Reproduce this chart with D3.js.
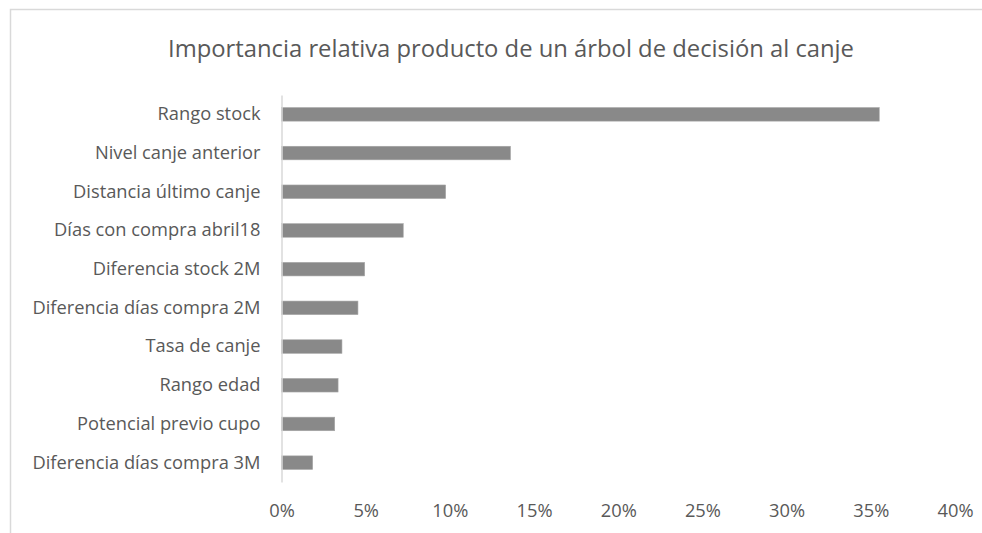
<!DOCTYPE html>
<html>
<head>
<meta charset="utf-8">
<script src="https://cdn.jsdelivr.net/npm/d3@7"></script>
<style>
  html, body { margin: 0; padding: 0; background: #fff; }
  svg { display: block; }
  text { font-family: "Open Sans", "Noto Sans", sans-serif; fill: #595959; }
</style>
</head>
<body>
<svg id="chart" width="982" height="533"></svg>
<script>
// Feature importance of the decision tree, top to bottom
const categories = [
  "Rango stock",
  "Nivel canje anterior",
  "Distancia último canje",
  "Días con compra abril18",
  "Diferencia stock 2M",
  "Diferencia días compra 2M",
  "Tasa de canje",
  "Rango edad",
  "Potencial previo cupo",
  "Diferencia días compra 3M"
];
const importance = [0.355, 0.136, 0.0975, 0.0723, 0.0494, 0.0454, 0.0359, 0.0336, 0.0316, 0.0185];
const tickValues = [0, 0.05, 0.10, 0.15, 0.20, 0.25, 0.30, 0.35, 0.40];
const title = "Importancia relativa producto de un árbol de decisión al canje";

const svg = d3.select("#chart");

// chart area frame
svg.append("rect")
  .attr("x", 10.5).attr("y", 9.5)
  .attr("width", 1000).attr("height", 600)
  .attr("fill", "none")
  .attr("stroke", "#d9d9d9")
  .attr("stroke-width", 1.5);

svg.append("text")
  .attr("x", 511).attr("y", 57)
  .attr("text-anchor", "middle")
  .style("font-size", "23.8px")
  .text(title);

const x = d3.scaleLinear().domain([0, 0.4]).range([281.5, 955]);
const y = d3.scaleBand().domain(categories).range([95, 482])
  .paddingInner(0.65).paddingOuter(0.325);

svg.append("g")
  .selectAll("rect")
  .data(categories)
  .join("rect")
  .attr("x", x(0))
  .attr("y", d => y(d))
  .attr("width", (d, i) => x(importance[i]) - x(0))
  .attr("height", y.bandwidth())
  .attr("fill", "#898989")
  .attr("stroke", "#a6a6a6")
  .attr("stroke-width", 0.6);

// category axis
const yAxis = svg.append("g")
  .attr("transform", `translate(${x(0)},0)`)
  .call(d3.axisLeft(y).tickSize(0).tickPadding(21));
yAxis.select(".domain").attr("stroke", "#d9d9d9").attr("stroke-width", 1.5);
yAxis.selectAll("text").style("font-size", "18.3px").attr("fill", "#595959");

// value axis
const xAxis = svg.append("g")
  .attr("transform", "translate(0,504)")
  .call(d3.axisBottom(x).tickValues(tickValues).tickSize(0).tickPadding(0)
    .tickFormat(d3.format(".0%")));
xAxis.select(".domain").remove();
xAxis.selectAll("text").style("font-size", "18.3px").attr("fill", "#595959").attr("dy", "0.71em");
</script>
</body>
</html>
